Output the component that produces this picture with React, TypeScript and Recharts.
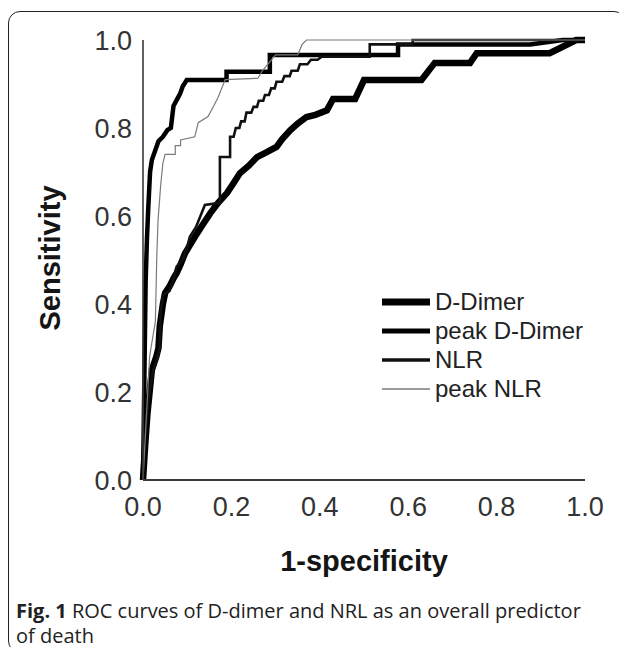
import React from 'react';
import { LineChart, Line, XAxis, YAxis, Legend } from 'recharts';

type Pt = { x: number; y: number };
const toPts = (arr: number[][]): Pt[] => arr.map(([x, y]) => ({ x, y }));

// ROC curve points: [1-specificity, sensitivity]
const dDimerRaw = [
  [0, 0], [0.005, 0.08], [0.01, 0.15], [0.015, 0.2], [0.02, 0.25], [0.03, 0.28], [0.035, 0.3],
  [0.038, 0.35], [0.045, 0.4], [0.05, 0.425], [0.06, 0.44], [0.07, 0.46], [0.076, 0.47],
  [0.085, 0.49], [0.095, 0.515], [0.11, 0.54], [0.122, 0.56], [0.135, 0.58], [0.152, 0.606],
  [0.17, 0.63], [0.19, 0.652], [0.205, 0.675], [0.219, 0.697], [0.24, 0.715], [0.258, 0.734],
  [0.28, 0.745], [0.302, 0.757], [0.315, 0.775], [0.333, 0.795], [0.35, 0.81], [0.37, 0.825],
  [0.39, 0.83], [0.416, 0.84], [0.43, 0.866], [0.48, 0.866], [0.5, 0.909], [0.63, 0.909],
  [0.66, 0.948], [0.74, 0.948], [0.755, 0.97], [0.92, 0.97], [0.98, 1], [1, 1],
];

const peakDDimerRaw = [
  [0, 0], [0.002, 0.15], [0.004, 0.3], [0.006, 0.45], [0.009, 0.55], [0.012, 0.62],
  [0.016, 0.7], [0.02, 0.727], [0.028, 0.75], [0.035, 0.77], [0.045, 0.78], [0.055, 0.795],
  [0.063, 0.8], [0.069, 0.85], [0.077, 0.865], [0.084, 0.878], [0.09, 0.895], [0.099, 0.909],
  [0.189, 0.909], [0.189, 0.928], [0.287, 0.928], [0.287, 0.966], [0.577, 0.966],
  [0.577, 0.99], [0.876, 0.99], [0.95, 1], [1, 1],
];

const nlrRaw = [
  [0, 0], [0.005, 0.1], [0.012, 0.18], [0.018, 0.22], [0.023, 0.25], [0.03, 0.27], [0.038, 0.3],
  [0.04, 0.38], [0.045, 0.42], [0.06, 0.43], [0.07, 0.46], [0.076, 0.485], [0.09, 0.5],
  [0.1, 0.53], [0.106, 0.553], [0.12, 0.575], [0.13, 0.6], [0.14, 0.625], [0.174, 0.63],
  [0.174, 0.734], [0.197, 0.734], [0.197, 0.78], [0.205, 0.78], [0.21, 0.8], [0.218, 0.8],
  [0.222, 0.815], [0.23, 0.815], [0.234, 0.835], [0.245, 0.835], [0.25, 0.848], [0.258, 0.848],
  [0.262, 0.862], [0.272, 0.862], [0.276, 0.875], [0.285, 0.875], [0.29, 0.89], [0.298, 0.89],
  [0.302, 0.905], [0.315, 0.905], [0.32, 0.918], [0.332, 0.918], [0.336, 0.93], [0.35, 0.93],
  [0.355, 0.945], [0.372, 0.945], [0.38, 0.955], [0.395, 0.955], [0.404, 0.962],
  [0.513, 0.962], [0.513, 0.99], [0.61, 0.99], [0.61, 1], [1, 1],
];

const peakNlrRaw = [
  [0, 0], [0.008, 0.15], [0.015, 0.28], [0.018, 0.3], [0.028, 0.36], [0.031, 0.5],
  [0.034, 0.59], [0.04, 0.67], [0.045, 0.72], [0.05, 0.74], [0.073, 0.74], [0.073, 0.76],
  [0.085, 0.76], [0.085, 0.773], [0.117, 0.78], [0.125, 0.812], [0.147, 0.826], [0.16, 0.85],
  [0.17, 0.87], [0.186, 0.91], [0.26, 0.913], [0.27, 0.93], [0.3, 0.966], [0.35, 0.966],
  [0.36, 0.99], [0.37, 1], [1, 1],
];

const dDimer = toPts(dDimerRaw);
const peakDDimer = toPts(peakDDimerRaw);
const nlr = toPts(nlrRaw);
const peakNlr = toPts(peakNlrRaw);

const seriesNames = ['D-Dimer', 'peak D-Dimer', 'NLR', 'peak NLR'];
const xTicks = [0, 0.2, 0.4, 0.6, 0.8, 1.0];
const yTicks = [0, 0.2, 0.4, 0.6, 0.8, 1.0];
const xTitle = '1-specificity';
const yTitle = 'Sensitivity';
const captionBold = 'Fig. 1';
const captionLine1 = ' ROC curves of D-dimer and NRL as an overall predictor';
const captionLine2 = 'of death';

const STYLE: Record<string, { width: number; color: string }> = {
  'D-Dimer': { width: 6.5, color: '#000' },
  'peak D-Dimer': { width: 4.5, color: '#000' },
  'NLR': { width: 2.6, color: '#111' },
  'peak NLR': { width: 1.2, color: '#7a7a7a' },
};

const LEGEND_WIDTH: Record<string, number> = {
  'D-Dimer': 7, 'peak D-Dimer': 5, 'NLR': 3.5, 'peak NLR': 1.5,
};

const FONT = '"Liberation Sans", Arial, sans-serif';

const renderLegend = (props: any) => {
  const items = [...(props.payload || [])].sort(
    (a: any, b: any) => seriesNames.indexOf(a.value) - seriesNames.indexOf(b.value)
  );
  return (
    <div style={{ fontFamily: FONT, fontSize: 24, color: '#222' }}>
      {items.map((entry: any) => {
        const name = entry.value as string;
        const st = STYLE[name];
        return (
          <div key={name} style={{ display: 'flex', alignItems: 'center', height: 29 }}>
            <svg width={50} height={10} style={{ display: 'block' }}>
              <line x1={0} x2={48} y1={5} y2={5} stroke={st.color} strokeWidth={LEGEND_WIDTH[name]} />
            </svg>
            <span style={{ marginLeft: 3, lineHeight: '29px', whiteSpace: 'nowrap' }}>{name}</span>
          </div>
        );
      })}
    </div>
  );
};

export default function App() {
  const datasets = [dDimer, peakDDimer, nlr, peakNlr];
  return (
    <div style={{ position: 'relative', width: 611, height: 647, marginBottom: -8 }}>
      <div
        style={{
          position: 'absolute', left: 0, top: 3, width: 618, height: 642,
          border: '1.3px solid #222', borderRadius: 12, boxSizing: 'border-box',
        }}
      />
      <div style={{ position: 'absolute', left: 0, top: 0 }}>
        <LineChart width={611} height={600} margin={{ top: 32, right: 34, left: 0, bottom: 0 }}>
          <XAxis
            type="number"
            dataKey="x"
            domain={[0, 1]}
            ticks={xTicks}
            tickFormatter={(v: number) => v.toFixed(1)}
            tickLine={false}
            tickSize={0}
            tickMargin={17}
            height={128}
            axisLine={{ stroke: '#3a3a3a', strokeWidth: 2 }}
            tick={{ fontFamily: FONT, fontSize: 27, fill: '#333' }}
            interval={0}
            label={{
              content: (p: any) => {
                const vb = p.viewBox || {};
                return (
                  <text
                    x={vb.x + vb.width / 2}
                    y={vb.y + 91}
                    textAnchor="middle"
                    fontFamily={FONT}
                    fontWeight="bold"
                    fontSize={29}
                    fill="#151515"
                  >
                    {xTitle}
                  </text>
                );
              },
            }}
          />
          <YAxis
            type="number"
            dataKey="y"
            domain={[0, 1]}
            ticks={yTicks}
            tickFormatter={(v: number) => v.toFixed(1)}
            tickLine={false}
            tickSize={0}
            tickMargin={11}
            width={135}
            axisLine={{ stroke: '#3a3a3a', strokeWidth: 1.6 }}
            tick={{ fontFamily: FONT, fontSize: 27, fill: '#333' }}
            interval={0}
            label={{
              content: (p: any) => {
                const vb = p.viewBox || {};
                const cx = 42;
                const cy = vb.y + vb.height / 2 - 2;
                return (
                  <text
                    x={cx}
                    y={cy}
                    transform={`rotate(-90 ${cx} ${cy})`}
                    textAnchor="middle"
                    dominantBaseline="central"
                    fontFamily={FONT}
                    fontWeight="bold"
                    fontSize={29}
                    fill="#151515"
                  >
                    {yTitle}
                  </text>
                );
              },
            }}
          />
          <Legend
            layout="vertical"
            align="center"
            verticalAlign="middle"
            content={renderLegend}
            wrapperStyle={{ position: 'absolute', left: 374, top: 279, width: 220 }}
          />
          {datasets.map((d, i) => {
            const name = seriesNames[i];
            const st = STYLE[name];
            return (
              <Line
                key={name}
                name={name}
                data={d}
                dataKey="y"
                type="linear"
                stroke={st.color}
                strokeWidth={st.width}
                dot={false}
                activeDot={false}
                strokeLinejoin="miter"
                isAnimationActive={false}
                legendType="line"
              />
            );
          })}
        </LineChart>
      </div>
      <div
        style={{
          position: 'absolute', left: 8, top: 590, width: 610,
          fontFamily: '"Open Sans", sans-serif', fontSize: 20, lineHeight: '25px', color: '#222',
        }}
      >
        <b>{captionBold}</b>{captionLine1}<br />{captionLine2}
      </div>
    </div>
  );
}
